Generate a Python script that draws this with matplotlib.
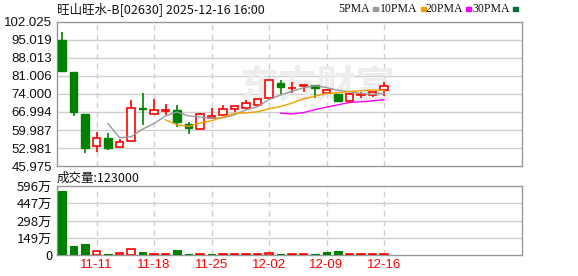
import matplotlib
matplotlib.use("Agg")
import matplotlib.pyplot as plt
import numpy as np
import pandas as pd

plt.rcParams['font.family'] = ['Noto Sans CJK SC', 'DejaVu Sans']

title = "旺山旺水-B[02630] 2025-12-16 16:00"
dates = ["11-06", "11-07", "11-10", "11-11", "11-12", "11-13", "11-14",
         "11-17", "11-18", "11-19", "11-20", "11-21",
         "11-24", "11-25", "11-26", "11-27", "11-28",
         "12-01", "12-02", "12-03", "12-04", "12-05",
         "12-08", "12-09", "12-10", "12-11", "12-12",
         "12-15", "12-16"]
opens = [95.0, 82.6, 66.3, 53.7, 57.0, 53.5, 55.7, 68.5, 66.2, 67.2, 67.8, 62.4,
         60.3, 64.8, 65.8, 68.3, 68.6, 69.6, 72.4, 78.2, 76.1, 77.0, 77.5, 74.2,
         73.8, 71.2, 73.5, 73.6, 75.5]
highs = [97.8, 82.6, 66.3, 59.3, 58.9, 56.7, 71.7, 74.4, 72.1, 69.9, 69.8, 63.3,
         66.8, 68.7, 69.8, 69.3, 71.7, 72.1, 79.3, 79.5, 78.6, 77.5, 77.5, 75.9,
         73.8, 74.5, 74.9, 74.8, 78.6]
lows = [82.3, 65.6, 51.3, 51.6, 52.4, 53.5, 55.7, 62.1, 66.2, 65.9, 61.3, 58.6,
        60.3, 64.8, 65.8, 67.0, 68.6, 69.6, 72.4, 73.8, 74.5, 74.7, 72.6, 74.2,
        71.2, 71.2, 72.4, 72.9, 73.2]
closes = [82.7, 66.9, 53.1, 56.8, 53.2, 55.3, 68.5, 68.0, 67.7, 67.7, 63.2, 60.8,
          66.1, 65.3, 68.1, 69.3, 70.4, 72.1, 79.3, 76.6, 76.4, 77.5, 76.2, 75.6,
          71.2, 73.8, 73.8, 74.8, 77.1]
volumes = [553, 78, 95, 35, 11, 17, 49, 26, 7, 7, 43, 8, 6, 6, 6, 6, 6, 6, 18, 8,
           6, 5, 7, 26, 33, 6, 6, 6, 6]  # 万
vol_up = [0, 0, 0, 1, 0, 1, 1, 0, 1, 1, 0, 0, 1, 0, 1, 1, 1, 1, 1, 0,
          1, 1, 0, 0, 0, 1, 1, 1, 1]
tick_dates = ["11-11", "11-18", "11-25", "12-02", "12-09", "12-16"]
price_ticks = [45.975, 52.981, 59.987, 66.994, 74.000, 81.006, 88.013, 95.019, 102.025]
price_labels = ["45.975", "52.981", "59.987", "66.994", "74.000", "81.006", "88.013", "95.019", "102.025"]
vol_ticks = [0, 149, 298, 447, 596]
vol_labels = ["0", "149万", "298万", "447万", "596万"]
ma_periods = [5, 10, 20, 30]
ma_colors = ["#999999", "#f0a000", "#ff00ff", "#006f3c"]

RED = "#ff0000"
GREEN = "#008000"
GRID = "#cfcfcf"
BORDER = "#999999"

W, H = 578, 276
fig = plt.figure(figsize=(W / 100, H / 100), dpi=100)

def fx(px):
    return px / W

def fy(py):
    return 1 - py / H

ax = fig.add_axes([fx(57), fy(166.3), fx(522 - 57), (166.3 - 21.5) / H])
axv = fig.add_axes([fx(57), fy(255), fx(522 - 57), (255 - 186) / H])

x = np.arange(len(dates))
o = np.array(opens); c = np.array(closes); h = np.array(highs); l = np.array(lows)
up = c >= o
bw = 0.68

for a in (ax, axv):
    a.set_xlim(-0.435, 40.0)
    for s in a.spines.values():
        s.set_color(BORDER)
        s.set_linewidth(1.0)
    a.tick_params(length=0)
    a.set_facecolor("white")

tick_idx = [dates.index(d) for d in tick_dates]

# price grid
ax.set_ylim(price_ticks[0], price_ticks[-1])
for t in price_ticks[1:-1]:
    ax.axhline(t, color=GRID, lw=1.0, zorder=0)
for i in tick_idx:
    ax.axvline(i, color=GRID, lw=1.0, ls=(0, (4, 3)), zorder=0)
ax.set_yticks(price_ticks)
ax.set_yticklabels(price_labels, family=['Liberation Sans', 'DejaVu Sans'], fontsize=9.5, color="#111111")
ax.set_xticks([])

# watermark
ax.text(0.56, 0.55, "东方财富", transform=ax.transAxes, fontsize=28, color="#ededed",
        ha="center", va="center", fontweight="bold", zorder=0.5)

# candles
for i in range(len(x)):
    col = RED if up[i] else GREEN
    ax.vlines(x[i], l[i], h[i], color=col, lw=1.2, zorder=2)
    bot = min(o[i], c[i])
    ht = max(abs(c[i] - o[i]), 0.35)
    if up[i]:
        ax.bar(x[i], ht, bottom=bot, width=bw, facecolor="white", edgecolor=RED, lw=1.2, zorder=3)
    else:
        ax.bar(x[i], ht, bottom=bot, width=bw, facecolor=GREEN, edgecolor=GREEN, lw=1.0, zorder=3)

# moving averages
cs = pd.Series(closes)
for p, colr in zip(ma_periods, ma_colors):
    ma = cs.rolling(p).mean()
    ax.plot(x, ma, color=colr, lw=1.0, zorder=4)

# volume
axv.set_ylim(0, vol_ticks[-1])
for t in vol_ticks[1:-1]:
    axv.axhline(t, color=GRID, lw=1.0, zorder=0)
for i in tick_idx:
    axv.axvline(i, color=GRID, lw=1.0, ls=(0, (4, 3)), zorder=0)
for i in range(len(x)):
    if vol_up[i]:
        axv.bar(x[i], volumes[i], width=bw, facecolor="white", edgecolor=RED, lw=1.2, zorder=3)
    else:
        axv.bar(x[i], volumes[i], width=bw, facecolor=GREEN, edgecolor=GREEN, lw=0.8, zorder=3)
axv.set_yticks(vol_ticks)
axv.set_yticklabels(vol_labels, fontsize=9.5, color="#111111")
axv.set_xticks(tick_idx)
axv.set_xticklabels(tick_dates, family=['Liberation Sans', 'DejaVu Sans'], fontsize=9.5, color=RED)
axv.tick_params(axis="x", pad=3)

# texts
fig.text(fx(57), fy(9), title, fontsize=9, ha="left", va="center", color="#111111")
fig.text(fx(57), fy(178), "成交量:123000", fontsize=9, ha="left", va="center", color="#111111")

legend_items = [("5PMA", 338), ("10PMA", 380), ("20PMA", 425), ("30PMA", 472)]
for (lab, px), colr in zip(legend_items, ma_colors):
    t = fig.text(fx(px), fy(9), lab, fontsize=8.5, ha="left", va="center",
                 family=['Liberation Serif', 'DejaVu Serif'], color="#111111")
    fig.canvas.draw()
    bb = t.get_window_extent()
    fig.patches.append(plt.Rectangle((fx(bb.x1 + 3), fy(10.5)), fx(5), 3 / H,
                                     transform=fig.transFigure, color=colr, figure=fig))

fig.savefig("out.png", dpi=100)
